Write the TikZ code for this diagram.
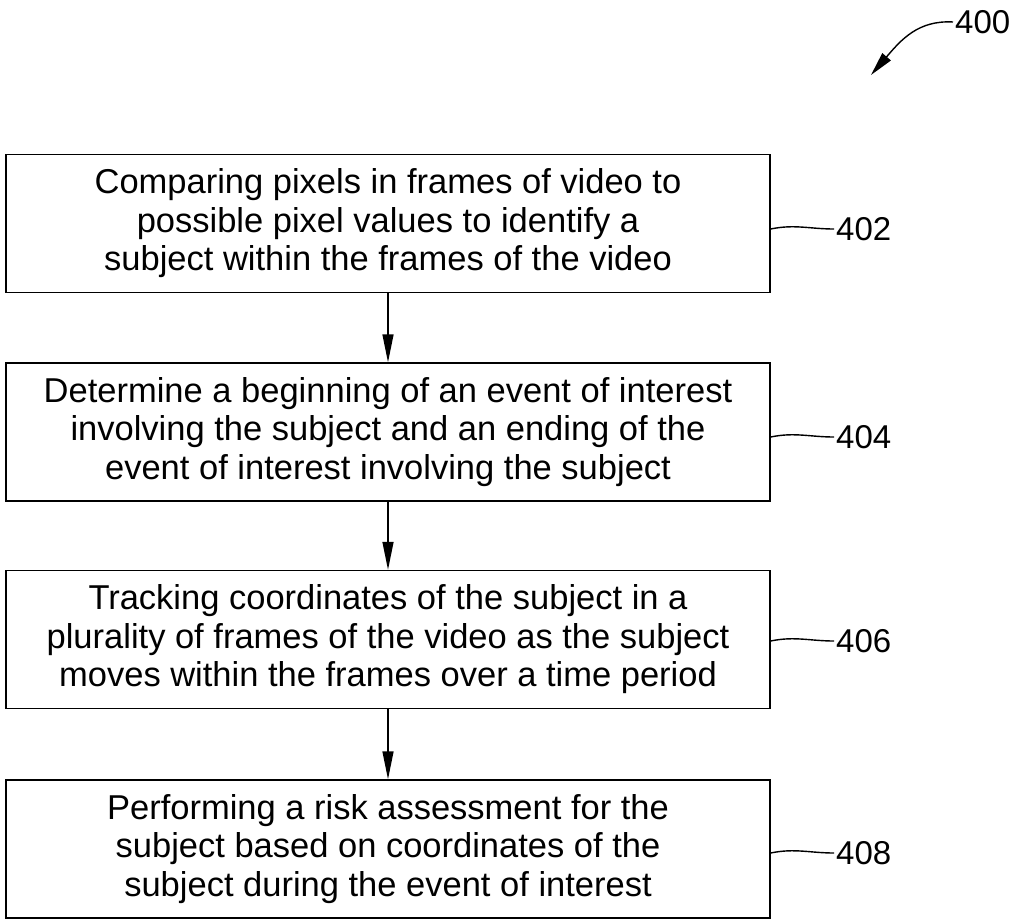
\documentclass[tikz,border=0pt]{standalone}
\usepackage{fontspec}
\setmainfont{Liberation Sans}
\usetikzlibrary{arrows.meta}
\begin{document}
\begin{tikzpicture}[x=1pt,y=-1pt,
  stepbox/.style={draw, line width=1.4pt, minimum width=764pt, minimum height=138pt,
    align=center, font=\fontsize{34.5}{38.5}\selectfont, inner sep=0pt},
  flow/.style={line width=1.4pt, -{Triangle[length=28pt,width=11pt]}},
  lead/.style={line width=1.4pt},
  reflabel/.style={font=\fontsize{33}{36}\selectfont, anchor=west, inner sep=0pt}]
\useasboundingbox (0,0) rectangle (1026,923);
\node[stepbox] (b1) at (388,223.5) {Comparing pixels in frames of video to\\possible pixel values to identify a\\subject within the frames of the video};
\node[stepbox] (b2) at (388,432) {Determine a beginning of an event of interest\\involving the subject and an ending of the\\event of interest involving the subject};
\node[stepbox] (b3) at (388,639.5) {Tracking coordinates of the subject in a\\plurality of frames of the video as the subject\\moves within the frames over a time period};
\node[stepbox] (b4) at (388,849) {Performing a risk assessment for the\\subject based on coordinates of the\\subject during the event of interest};
\draw[flow] (b1) -- (b2);
\draw[flow] (b2) -- (b3);
\draw[flow] (b3) -- (b4);
\node[reflabel] (l402) at (836,229) {402};
\node[reflabel] (l404) at (836,437) {404};
\node[reflabel] (l406) at (836,641) {406};
\node[reflabel] (l408) at (836,853) {408};
\foreach \b/\l in {b1/l402,b2/l404,b3/l406,b4/l408}
  \draw[lead] (\b.east |- \l.west) .. controls +(24,-5) and +(-24,0) .. ([xshift=-2pt]\l.west);
\node[reflabel] (l400) at (955,22) {400};
\coordinate (t400) at (871,75);
\draw[lead, -{Triangle[length=24pt,width=11pt]}] ([xshift=-2pt]l400.west) .. controls +(-35,-2) and +(30,-35) .. (t400);
\end{tikzpicture}
\end{document}
